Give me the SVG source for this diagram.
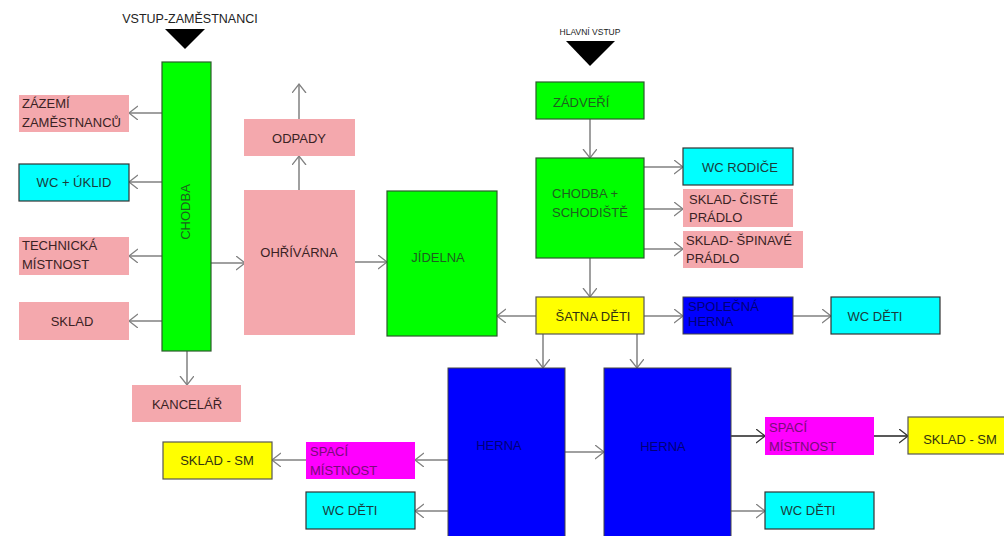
<svg xmlns="http://www.w3.org/2000/svg" width="1004" height="536" viewBox="0 0 1004 536">
<defs>
<marker id="ah" markerUnits="userSpaceOnUse" markerWidth="12" markerHeight="16" refX="9" refY="7" orient="auto" viewBox="0 0 12 16">
<path d="M0,0 L9,7 L0,14" fill="none" stroke="#808080" stroke-width="1.3"/>
</marker>
<marker id="ahk" markerUnits="userSpaceOnUse" markerWidth="12" markerHeight="16" refX="9" refY="7" orient="auto" viewBox="0 0 12 16">
<path d="M0,0 L9,7 L0,14" fill="none" stroke="#333" stroke-width="1.3"/>
</marker>
</defs>
<style>
text{font-family:"Liberation Sans",Arial,sans-serif;font-size:13px}
.pink{fill:#f4a8ad}
.green{fill:#00ff00;stroke:#2c5a2c;stroke-width:1.2}
.cyan{fill:#00ffff;stroke:#333;stroke-width:1.2}
.yellow{fill:#ffff00;stroke:#555;stroke-width:1.2}
.blue{fill:#0000ff;stroke:#444;stroke-width:1}
.mag{fill:#ff00ff}
.tp{fill:#3a2224}
.tg{fill:#1f5f1f}
.tc{fill:#1b3b3b}
.ty{fill:#333310}
.tb{fill:#000078}
.tm{fill:#7a0a7a}
.c{text-anchor:middle}
#connectors line{stroke:#808080;stroke-width:1.5;marker-end:url(#ah)}
#connectors line.k{stroke:#222;marker-end:url(#ahk)}
</style>
<rect width="1004" height="536" fill="#ffffff"/>
<g id="entry-staff">
<text x="190" y="23" class="c" fill="#222" style="font-size:12.5px">VSTUP-ZAMĚSTNANCI</text>
<polygon points="165,29 205,29 185,49" fill="#000"/>
</g>
<g id="entry-main">
<text x="590" y="35" class="c" fill="#222" style="font-size:8.5px">HLAVNÍ VSTUP</text>
<polygon points="566,41 615,41 590,66" fill="#000"/>
</g>
<g id="connectors">
<line x1="162" y1="113" x2="129" y2="113"/>
<line x1="162" y1="182" x2="129" y2="182"/>
<line x1="162" y1="256" x2="129" y2="256"/>
<line x1="162" y1="321" x2="129" y2="321"/>
<line x1="187" y1="351" x2="187" y2="385"/>
<line x1="211" y1="263" x2="245" y2="263"/>
<line x1="299" y1="190" x2="299" y2="156"/>
<line x1="299" y1="119" x2="299" y2="84"/>
<line x1="355" y1="262" x2="387" y2="262"/>
<line x1="590" y1="119" x2="590" y2="158"/>
<line x1="644" y1="167" x2="683" y2="167"/>
<line x1="644" y1="209" x2="683" y2="209"/>
<line x1="644" y1="249" x2="683" y2="249"/>
<line x1="590" y1="258" x2="590" y2="297"/>
<line x1="536" y1="316" x2="497" y2="316"/>
<line x1="644" y1="316" x2="683" y2="316"/>
<line x1="793" y1="316" x2="831" y2="316"/>
<line x1="543" y1="334" x2="543" y2="368"/>
<line x1="637" y1="334" x2="637" y2="368"/>
<line x1="565" y1="452" x2="604" y2="452"/>
<line x1="448" y1="460" x2="415" y2="460"/>
<line x1="306" y1="460" x2="272" y2="460"/>
<line x1="448" y1="511" x2="415" y2="511"/>
<line class="k" x1="731" y1="436" x2="765" y2="436"/>
<line class="k" x1="874" y1="436" x2="908" y2="436"/>
<line x1="731" y1="511" x2="765" y2="511"/>
</g>
<g id="chodba">
<rect x="162" y="62" width="49" height="289" class="green"/>
<text transform="translate(190,212) rotate(-90)" class="c tg">CHODBA</text>
</g>
<g id="zazemi">
<rect x="19" y="95" width="110" height="37" class="pink"/>
<text x="22" y="108" class="tp">ZÁZEMÍ</text>
<text x="22" y="127" class="tp">ZAMĚSTNANCŮ</text>
</g>
<g id="wc-uklid">
<rect x="19" y="164" width="110" height="37" class="cyan"/>
<text x="74" y="187" class="c tc">WC + ÚKLID</text>
</g>
<g id="technicka">
<rect x="19" y="237" width="110" height="38" class="pink"/>
<text x="22" y="250" class="tp">TECHNICKÁ</text>
<text x="22" y="269" class="tp">MÍSTNOST</text>
</g>
<g id="sklad">
<rect x="19" y="302" width="110" height="38" class="pink"/>
<text x="72" y="326" class="c tp">SKLAD</text>
</g>
<g id="kancelar">
<rect x="132" y="385" width="109" height="37" class="pink"/>
<text x="187" y="409" class="c tp">KANCELÁŘ</text>
</g>
<g id="ohrivarna">
<rect x="244" y="190" width="111" height="145" class="pink"/>
<text x="299" y="257" class="c tp">OHŘÍVÁRNA</text>
</g>
<g id="odpady">
<rect x="244" y="119" width="111" height="37" class="pink"/>
<text x="299" y="143" class="c tp">ODPADY</text>
</g>
<g id="jidelna">
<rect x="387" y="191" width="110" height="145" class="green"/>
<text x="438" y="262" class="c tg">JÍDELNA</text>
</g>
<g id="zadveri">
<rect x="536" y="82" width="108" height="37" class="green"/>
<text x="553" y="107" class="tg">ZÁDVEŘÍ</text>
</g>
<g id="chodba-schodiste">
<rect x="536" y="158" width="108" height="100" class="green"/>
<text x="552" y="198" class="tg">CHODBA +</text>
<text x="552" y="217" class="tg">SCHODIŠTĚ</text>
</g>
<g id="wc-rodice">
<rect x="683" y="148" width="110" height="37" class="cyan"/>
<text x="740" y="172" class="c tc">WC RODIČE</text>
</g>
<g id="sklad-ciste">
<rect x="683" y="189" width="110" height="38" class="pink"/>
<text x="689" y="204" class="tp">SKLAD- ČISTÉ</text>
<text x="689" y="222" class="tp">PRÁDLO</text>
</g>
<g id="sklad-spinave">
<rect x="683" y="231" width="120" height="37" class="pink"/>
<text x="686" y="245" class="tp">SKLAD- ŠPINAVÉ</text>
<text x="686" y="263" class="tp">PRÁDLO</text>
</g>
<g id="satna">
<rect x="536" y="297" width="108" height="37" class="yellow"/>
<text x="593" y="321" class="c ty">ŠATNA DĚTI</text>
</g>
<g id="spolecna-herna">
<rect x="683" y="297" width="110" height="37" class="blue"/>
<text x="688" y="311" class="tb">SPOLEČNÁ</text>
<text x="688" y="326" class="tb">HERNA</text>
</g>
<g id="wc-deti-top">
<rect x="831" y="297" width="109" height="37" class="cyan"/>
<text x="875" y="321" class="c tc">WC DĚTI</text>
</g>
<g id="herna-left">
<rect x="448" y="368" width="117" height="175" class="blue"/>
<text x="499" y="450" class="c tb">HERNA</text>
</g>
<g id="herna-right">
<rect x="604" y="368" width="127" height="175" class="blue"/>
<text x="663" y="451" class="c tb">HERNA</text>
</g>
<g id="spaci-left">
<rect x="306" y="442" width="109" height="37" class="mag"/>
<text x="310" y="456" class="tm">SPACÍ</text>
<text x="310" y="475" class="tm">MÍSTNOST</text>
</g>
<g id="sklad-sm-left">
<rect x="163" y="442" width="109" height="37" class="yellow"/>
<text x="217" y="465" class="c ty">SKLAD - SM</text>
</g>
<g id="wc-deti-left">
<rect x="306" y="492" width="109" height="37" class="cyan"/>
<text x="350" y="515" class="c tc">WC DĚTI</text>
</g>
<g id="spaci-right">
<rect x="765" y="417" width="109" height="38" class="mag"/>
<text x="769" y="432" class="tm">SPACÍ</text>
<text x="769" y="451" class="tm">MÍSTNOST</text>
</g>
<g id="sklad-sm-right">
<rect x="908" y="417" width="104" height="37" class="yellow"/>
<text x="960" y="444" class="c ty">SKLAD - SM</text>
</g>
<g id="wc-deti-right">
<rect x="765" y="492" width="109" height="37" class="cyan"/>
<text x="808" y="515" class="c tc">WC DĚTI</text>
</g>
</svg>
